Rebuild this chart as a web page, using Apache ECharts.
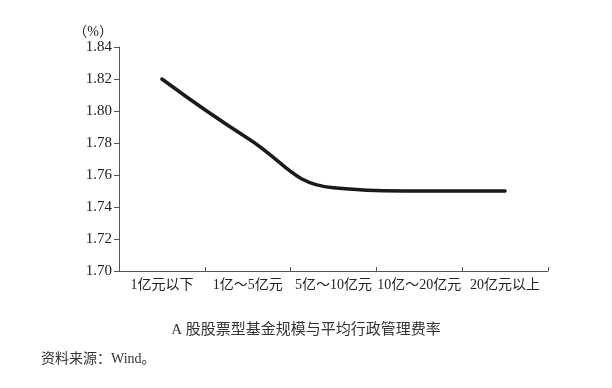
<!DOCTYPE html>
<html><head><meta charset="utf-8">
<script src="https://cdn.jsdelivr.net/npm/echarts@6/dist/echarts.min.js"></script>
<style>html,body{margin:0;padding:0;background:#fff}#c{width:612px;height:388px}</style>
</head><body><div id="c"></div>
<script>
var categories = ['1亿元以下', '1亿～5亿元', '5亿～10亿元', '10亿～20亿元', '20亿元以上'];
var feeRate = [1.82, 1.783, 1.752, 1.75, 1.75];
var yTicks = { min: 1.70, max: 1.84, step: 0.02 };
var titleText = 'A 股股票型基金规模与平均行政管理费率';
var sourceText = '资料来源：Wind。';
var unitText = '（%）';

var serif = '"Liberation Serif", "Noto Sans CJK SC", serif';
var chart = echarts.init(document.getElementById('c'));
chart.setOption({
  animation: false,
  backgroundColor: '#fff',
  grid: { left: 119, right: 64, top: 47, bottom: 117 },
  title: [
    { text: titleText, left: 'center', top: 318, textStyle: { fontSize: 15, fontWeight: 'normal', color: '#333', fontFamily: serif } },
    { text: sourceText, left: 36, top: 347, textStyle: { fontSize: 14, fontWeight: 'normal', color: '#333', fontFamily: serif } }
  ],
  xAxis: {
    type: 'category', data: categories, boundaryGap: true,
    axisLine: { lineStyle: { color: '#555', width: 1 } },
    axisTick: { show: true, inside: true, length: 4, lineStyle: { color: '#555' } },
    axisLabel: { color: '#222', fontSize: 14, fontFamily: serif, margin: 7, interval: 0 }
  },
  yAxis: {
    type: 'value', min: yTicks.min, max: yTicks.max, interval: yTicks.step,
    name: unitText, nameLocation: 'end', nameGap: 8,
    nameTextStyle: { color: '#222', fontSize: 14, fontFamily: serif, align: 'right', padding: [0, 6, 0, 0] },
    splitLine: { show: false },
    axisLine: { show: true, lineStyle: { color: '#555', width: 1 } },
    axisTick: { show: true, length: 5, lineStyle: { color: '#555' } },
    axisLabel: { color: '#222', fontSize: 15, fontFamily: serif, margin: 7, formatter: function (v) { return v.toFixed(2); } }
  },
  series: [{
    type: 'line', data: feeRate, smooth: 0.45, symbol: 'none',
    lineStyle: { color: '#1a1a1a', width: 3.5, cap: 'round' }
  }]
});
</script></body></html>
